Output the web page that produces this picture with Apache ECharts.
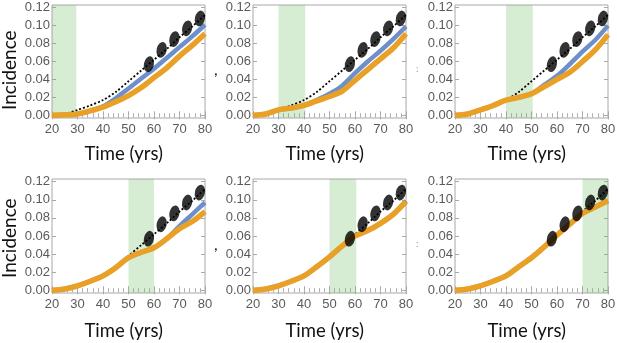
<!DOCTYPE html>
<html>
<head>
<meta charset="utf-8">
<style>
html, body { margin: 0; padding: 0; background: #fff; }
#chart { width: 617px; height: 343px; }
</style>
<script src="https://cdn.jsdelivr.net/npm/echarts@6.0.0/dist/echarts.min.js"></script>
</head>
<body>
<div id="chart"></div>
<script>
// sampled ages (years)
var years = [20, 25, 30, 35, 40, 45, 50, 55, 60, 65, 70, 75, 80];

// black dashed model curve, same in every panel
var baseline = [0, 0.0015, 0.006, 0.011, 0.017, 0.026, 0.038, 0.050, 0.062, 0.074, 0.087, 0.099, 0.112];

// blue curves, one per panel
var blue1 = [0, 0.0005, 0.0015, 0.005, 0.010, 0.019, 0.030, 0.041, 0.052, 0.064, 0.076, 0.088, 0.101];
var blue2 = [0, 0.0015, 0.006, 0.008, 0.011, 0.017, 0.024, 0.033, 0.047, 0.060, 0.072, 0.085, 0.099];
var blue3 = [0, 0.0015, 0.006, 0.011, 0.017, 0.020, 0.024, 0.034, 0.044, 0.057, 0.071, 0.084, 0.100];
var blue4 = [0, 0.0015, 0.005, 0.010, 0.016, 0.025, 0.036, 0.042, 0.047, 0.057, 0.071, 0.084, 0.097];
var blue5 = [0, 0.0015, 0.005, 0.010, 0.016, 0.026, 0.037, 0.049, 0.060, 0.066, 0.074, 0.084, 0.099];
var blue6 = [0, 0.0015, 0.005, 0.010, 0.016, 0.026, 0.036, 0.048, 0.061, 0.073, 0.085, 0.092, 0.099];

// orange curves, one per panel
var orange1 = [0, 0.0005, 0.0015, 0.005, 0.009, 0.015, 0.022, 0.031, 0.042, 0.053, 0.066, 0.078, 0.091];
var orange2 = [0, 0.0015, 0.006, 0.008, 0.011, 0.016, 0.021, 0.027, 0.039, 0.051, 0.063, 0.075, 0.091];
var orange3 = [0, 0.0015, 0.006, 0.011, 0.017, 0.020, 0.024, 0.032, 0.040, 0.048, 0.060, 0.073, 0.090];
var orange4 = [0, 0.0015, 0.005, 0.010, 0.016, 0.025, 0.036, 0.042, 0.047, 0.057, 0.068, 0.076, 0.087];
var orange5 = [0, 0.0015, 0.005, 0.010, 0.016, 0.026, 0.037, 0.049, 0.060, 0.066, 0.074, 0.084, 0.098];
var orange6 = [0, 0.0015, 0.005, 0.010, 0.016, 0.026, 0.036, 0.048, 0.061, 0.073, 0.085, 0.092, 0.099];

// observed data (big black markers)
var dataYears = [58, 63, 68, 73, 78];
var dataValues = [0.057, 0.073, 0.085, 0.097, 0.108];

// green shaded windows
var bandStart = [20, 30, 40, 50, 50, 70];
var bandEnd = [29.5, 40.5, 50.5, 60, 60.5, 80];

var yTicks = [0, 0.02, 0.04, 0.06, 0.08, 0.10, 0.12];
var blues = [blue1, blue2, blue3, blue4, blue5, blue6];
var oranges = [orange1, orange2, orange3, orange4, orange5, orange6];

function pairs(xs, ys) {
	var out = [];
	for (var k = 0; k < xs.length; k++) out.push([xs[k], ys[k]]);
	return out;
}

var colLeft = [52, 253, 455];
var rowTop = [5, 179];
var rowH = [113, 114];
var panelW = 153;
var frameColor = '#a8a8a8';
var labelFont = 'Liberation Sans';

var option = {
	animation: false,
	grid: [],
	xAxis: [],
	yAxis: [],
	series: [],
	graphic: []
};

for (var i = 0; i < 6; i++) {
	var col = i % 3, row = Math.floor(i / 3);
	option.grid.push({
		left: colLeft[col], top: rowTop[row], width: panelW, height: rowH[row],
		show: true, borderColor: frameColor, borderWidth: 1,
		outerBoundsMode: 'none'
	});
	// bottom / top x axes
	option.xAxis.push({
		gridIndex: i, type: 'value', min: 20, max: 80, interval: 10, position: 'bottom',
		axisLine: { show: false },
		axisTick: { inside: true, length: 4, lineStyle: { color: frameColor } },
		minorTick: { show: true, splitNumber: 5, length: 2, lineStyle: { color: frameColor } },
		splitLine: { show: false },
		axisLabel: { color: '#5a5a5a', fontSize: 13, fontFamily: labelFont, margin: 5 }
	});
	option.xAxis.push({
		gridIndex: i, type: 'value', min: 20, max: 80, interval: 10, position: 'top',
		axisLine: { show: false },
		axisTick: { inside: true, length: 4, lineStyle: { color: frameColor } },
		minorTick: { show: true, splitNumber: 5, length: 2, lineStyle: { color: frameColor } },
		splitLine: { show: false },
		axisLabel: { show: false }
	});
	// left / right y axes
	option.yAxis.push({
		gridIndex: i, type: 'value', min: -0.003, max: 0.123, position: 'left',
		axisLine: { show: false },
		axisTick: { inside: true, length: 4, customValues: yTicks, lineStyle: { color: frameColor } },
		splitLine: { show: false },
		axisLabel: {
			color: '#5a5a5a', fontSize: 13, fontFamily: labelFont, margin: 2,
			customValues: yTicks,
			formatter: function (v) { return v.toFixed(2); }
		}
	});
	option.yAxis.push({
		gridIndex: i, type: 'value', min: -0.003, max: 0.123, position: 'right',
		axisLine: { show: false },
		axisTick: { inside: true, length: 4, customValues: yTicks, lineStyle: { color: frameColor } },
		splitLine: { show: false },
		axisLabel: { show: false }
	});

	var xi = 2 * i, yi = 2 * i;
	option.series.push({
		type: 'line', xAxisIndex: xi, yAxisIndex: yi, z: 1,
		data: pairs(years, baseline), smooth: 0.3, showSymbol: false,
		lineStyle: { color: '#000', width: 1.8, type: [2, 2] }
	});
	option.series.push({
		type: 'line', xAxisIndex: xi, yAxisIndex: yi, z: 2,
		data: pairs(years, blues[i]), smooth: 0.3, showSymbol: false,
		lineStyle: { color: '#6d8fca', width: 4.5 }
	});
	option.series.push({
		type: 'line', xAxisIndex: xi, yAxisIndex: yi, z: 3,
		data: pairs(years, oranges[i]), smooth: 0.3, showSymbol: false,
		lineStyle: { color: '#e8a027', width: 5.5 }
	});
	option.series.push({
		type: 'scatter', xAxisIndex: xi, yAxisIndex: yi, z: 4,
		data: pairs(dataYears, dataValues),
		symbol: 'circle', symbolSize: [10, 16], symbolRotate: -12,
		itemStyle: { color: '#000' }
	});
	option.series.push({
		type: 'line', xAxisIndex: xi, yAxisIndex: yi, z: 5,
		data: [], silent: true,
		markArea: {
			silent: true,
			itemStyle: { color: 'rgba(107,190,100,0.28)' },
			data: [[{ xAxis: bandStart[i] }, { xAxis: bandEnd[i] }]]
		}
	});

	// axis titles
	option.graphic.push({
		type: 'text', left: colLeft[col] + panelW / 2 - 44, top: row === 0 ? 145 : 322,
		style: { text: 'Time (yrs)', font: '18.5px Lato', fill: '#111' }
	});
}

option.graphic.push({
	type: 'text', x: 0, y: 110, rotation: Math.PI / 2,
	style: { text: 'Incidence', font: '19px Lato', fill: '#111' }
});
option.graphic.push({
	type: 'text', x: 0, y: 278, rotation: Math.PI / 2,
	style: { text: 'Incidence', font: '19px Lato', fill: '#111' }
});
// stray marks between panels
option.graphic.push({ type: 'text', x: 214, y: 62, style: { text: ',', font: '16px Lato', fill: '#222' } });
option.graphic.push({ type: 'text', x: 214, y: 237, style: { text: ',', font: '16px Lato', fill: '#222' } });
option.graphic.push({ type: 'text', x: 416, y: 64, style: { text: ':', font: '10px Lato', fill: '#999' } });
option.graphic.push({ type: 'text', x: 416, y: 239, style: { text: ':', font: '10px Lato', fill: '#999' } });

var myChart = echarts.init(document.getElementById('chart'));
myChart.setOption(option);
</script>
</body>
</html>
